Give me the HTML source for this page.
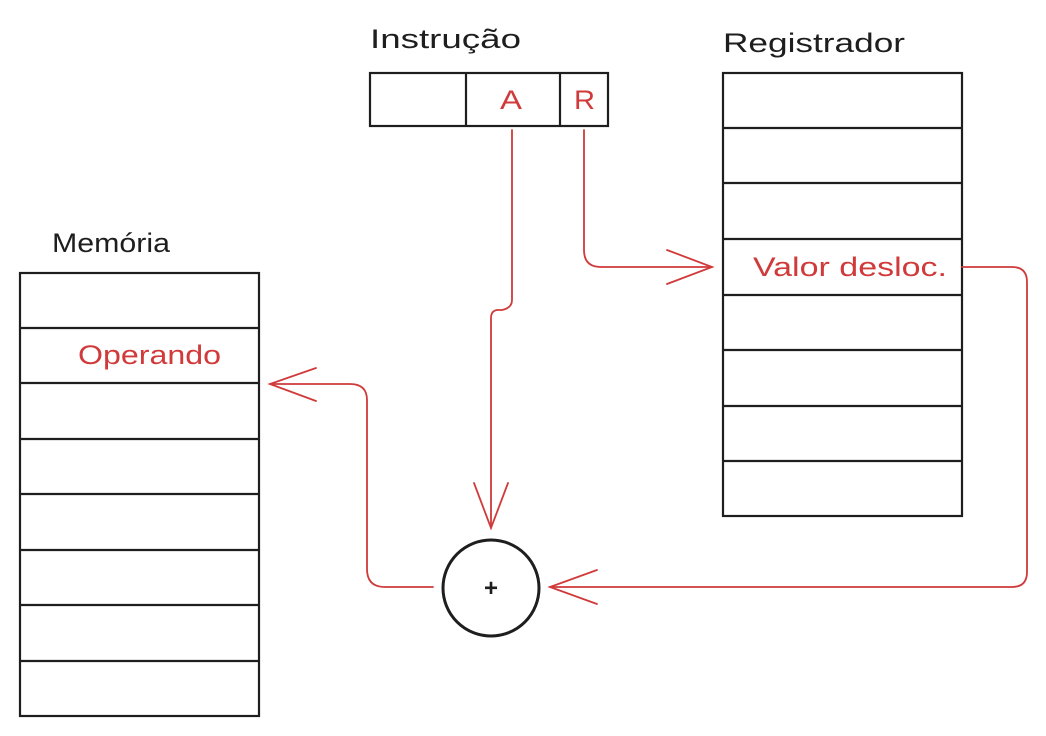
<!DOCTYPE html>
<html><head><meta charset="utf-8"><style>
html,body{margin:0;padding:0;background:#fff;}
svg{display:block;}
text{font-family:"Liberation Sans",sans-serif;}
</style></head><body>
<svg width="1046" height="736" viewBox="0 0 1046 736" xmlns="http://www.w3.org/2000/svg">
<g fill="none" stroke="#1e1e1e" stroke-width="2.2">
<rect x="370" y="73" width="238" height="53"/>
<line x1="466" y1="73" x2="466" y2="126"/>
<line x1="560" y1="73" x2="560" y2="126"/>
<rect x="723" y="73" width="239" height="443"/>
<line x1="723" y1="128" x2="962" y2="128"/>
<line x1="723" y1="183" x2="962" y2="183"/>
<line x1="723" y1="239" x2="962" y2="239"/>
<line x1="723" y1="295" x2="962" y2="295"/>
<line x1="723" y1="350" x2="962" y2="350"/>
<line x1="723" y1="406" x2="962" y2="406"/>
<line x1="723" y1="461" x2="962" y2="461"/>
<rect x="20" y="273" width="239" height="443"/>
<line x1="20" y1="328" x2="259" y2="328"/>
<line x1="20" y1="383" x2="259" y2="383"/>
<line x1="20" y1="439" x2="259" y2="439"/>
<line x1="20" y1="494" x2="259" y2="494"/>
<line x1="20" y1="550" x2="259" y2="550"/>
<line x1="20" y1="605" x2="259" y2="605"/>
<line x1="20" y1="661" x2="259" y2="661"/>
<circle cx="491" cy="588" r="48" stroke-width="3"/>
</g>
<g fill="none" stroke="#d03a3a" stroke-width="1.8" stroke-linecap="round">
<path d="M512 130 L512 300 Q512 308 502 310 L497 310 Q491 311 491 318 L491 528"/>
<path d="M474 483 L491 528 L508 483"/>
<path d="M584 130 L584 250 Q584 267 601 267 L712 267"/>
<path d="M667 250 L712 267 L667 284"/>
<path d="M962 267 L1012 267 Q1027 267 1027 282 L1027 572 Q1027 587 1012 587 L550 587"/>
<path d="M597 570 L550 587 L597 604"/>
<path d="M433 587 L385 587 Q367 587 367 569 L367 400 Q367 384 350 384 L270 384"/>
<path d="M316 368 L270 384 L316 401"/>
</g>
<g font-size="27" fill="#1e1e1e">
<text x="370" y="48" textLength="151" lengthAdjust="spacingAndGlyphs">Instrução</text>
<text x="723" y="52" textLength="182" lengthAdjust="spacingAndGlyphs">Registrador</text>
<text x="52" y="252" textLength="118" lengthAdjust="spacingAndGlyphs">Memória</text>
</g>
<g font-size="27" fill="#d03a3a">
<text x="500" y="109" textLength="22" lengthAdjust="spacingAndGlyphs">A</text>
<text x="574" y="109" textLength="21" lengthAdjust="spacingAndGlyphs">R</text>
<text x="753" y="276" textLength="194" lengthAdjust="spacingAndGlyphs">Valor desloc.</text>
<text x="78" y="364" textLength="143" lengthAdjust="spacingAndGlyphs">Operando</text>
</g>
<text x="491" y="596" font-size="24" font-weight="bold" fill="#1e1e1e" text-anchor="middle">+</text>
</svg>
</body></html>
